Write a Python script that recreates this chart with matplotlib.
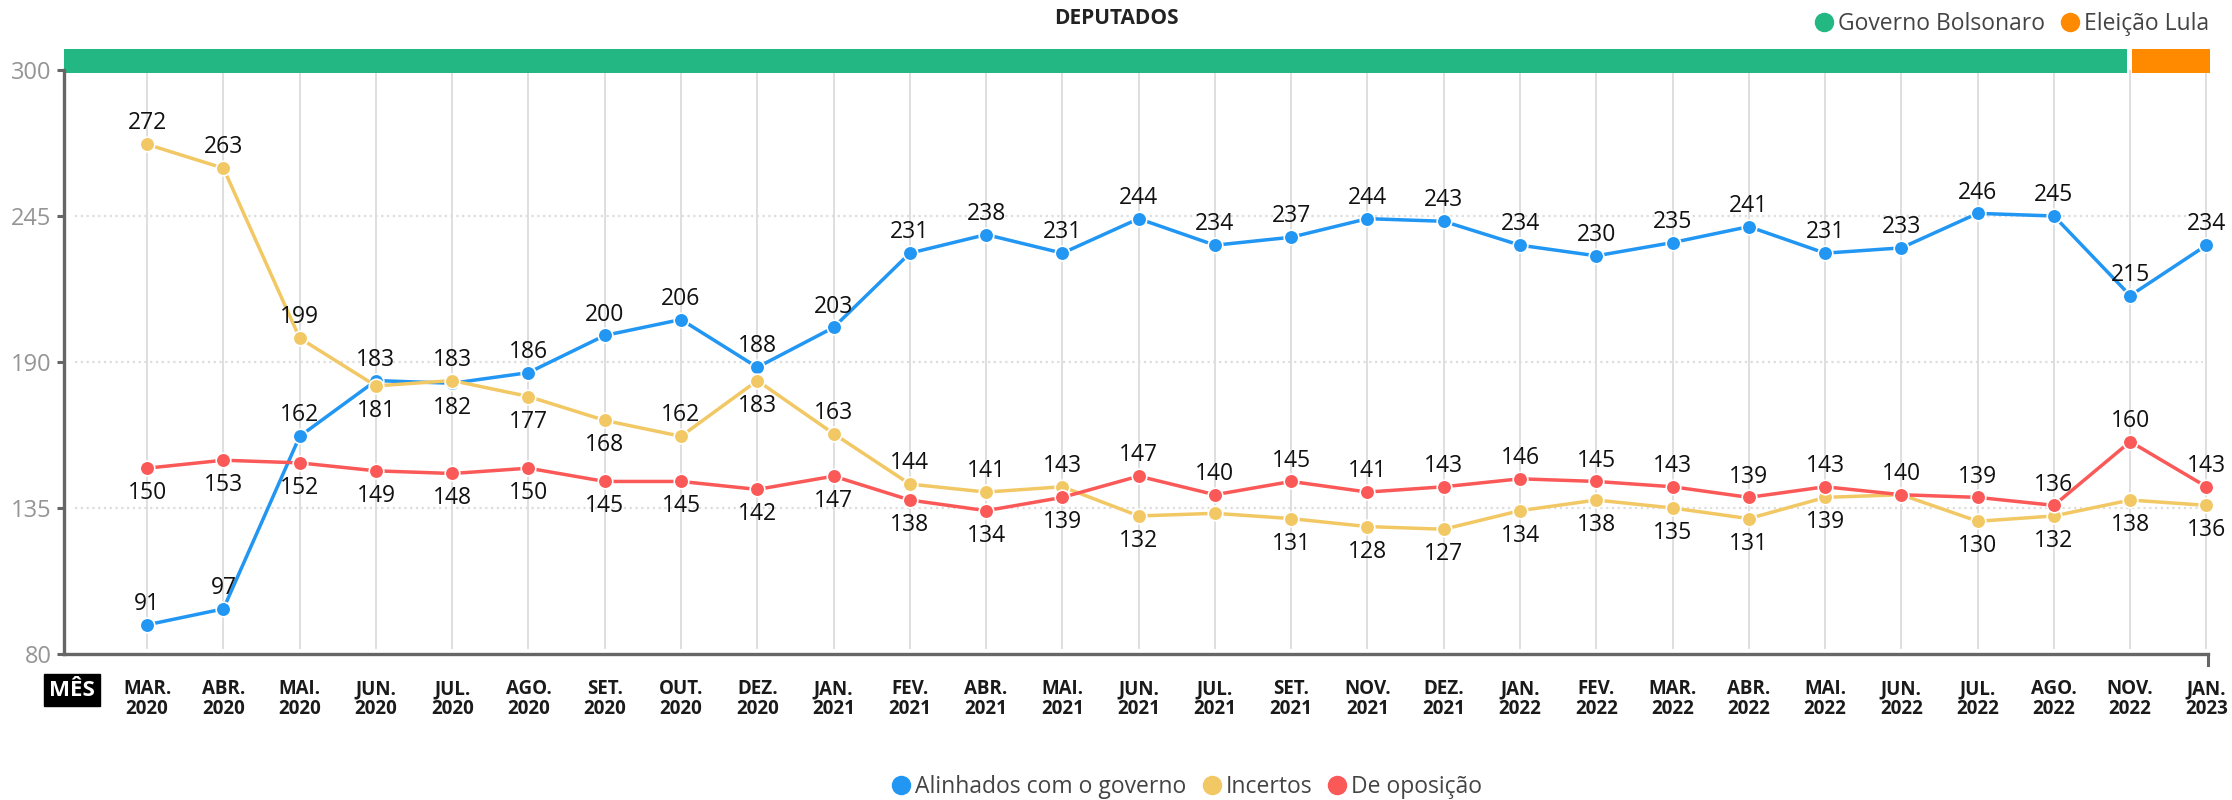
import matplotlib
matplotlib.use("Agg")
import matplotlib.pyplot as plt
from matplotlib.patches import Rectangle
from matplotlib.lines import Line2D

# ---------------- data ----------------
months = ["MAR.\n2020", "ABR.\n2020", "MAI.\n2020", "JUN.\n2020", "JUL.\n2020", "AGO.\n2020",
          "SET.\n2020", "OUT.\n2020", "DEZ.\n2020", "JAN.\n2021", "FEV.\n2021", "ABR.\n2021",
          "MAI.\n2021", "JUN.\n2021", "JUL.\n2021", "SET.\n2021", "NOV.\n2021", "DEZ.\n2021",
          "JAN.\n2022", "FEV.\n2022", "MAR.\n2022", "ABR.\n2022", "MAI.\n2022", "JUN.\n2022",
          "JUL.\n2022", "AGO.\n2022", "NOV.\n2022", "JAN.\n2023"]

alinhados = [91, 97, 162, 183, 182, 186, 200, 206, 188, 203, 231, 238, 231, 244,
             234, 237, 244, 243, 234, 230, 235, 241, 231, 233, 246, 245, 215, 234]
incertos = [272, 263, 199, 181, 183, 177, 168, 162, 183, 163, 144, 141, 143, 132,
            133, 131, 128, 127, 134, 138, 135, 131, 139, 140, 130, 132, 138, 136]
oposicao = [150, 153, 152, 149, 148, 150, 145, 145, 142, 147, 138, 134, 139, 147,
            140, 145, 141, 143, 146, 145, 143, 139, 143, 140, 139, 136, 160, 143]

# label placement: 1 = above, -1 = below, 0 = hidden
pos_alinhados = [1, 1, 1, 1, -1] + [1] * 23
pos_incertos = [1, 1, 1, -1, 1, -1, -1, 1, -1, 1, 1, 1, 1, -1,
                0, -1, -1, -1, -1, -1, -1, -1, -1, 0, -1, -1, -1, -1]
pos_oposicao = [-1] * 13 + [1] * 15

yticks = [80, 135, 190, 245, 300]
series_names = ["Alinhados com o governo", "Incertos", "De oposição"]
periods = [("Governo Bolsonaro", "#22b783"), ("Eleição Lula", "#ff8a00")]
period_index_split = 26  # NOV. 2022

# ---------------- style ----------------
FONT = ["Open Sans", "DejaVu Sans"]
plt.rcParams["font.family"] = FONT
BLUE, YELLOW, RED = "#2196f3", "#f2c865", "#fb5858"
AX_COL = "#666666"

W, H = 2232, 800
fig = plt.figure(figsize=(W / 100, H / 100), dpi=100)
x0, x1, ytop, ybot = 64, 2208, 70, 654
ax = fig.add_axes([x0 / W, 1 - ybot / H, (x1 - x0) / W, (ybot - ytop) / H])

xs = list(range(len(months)))
ax.set_xlim(-1.09, len(months) - 1 + 0.02)
ax.set_ylim(80, 300)

# grids
for x in xs:
    ax.plot([x, x], [82, 300], color="#dcdcdc", lw=1.3, zorder=0, solid_capstyle="butt")
for y in yticks[1:-1]:
    ax.plot([-0.95, len(months) - 1 - 0.05], [y, y], color="#dddddd", lw=1.6,
            ls=(0, (1, 1.6)), zorder=0)

for sp in ["top", "right"]:
    ax.spines[sp].set_visible(False)
for sp in ["left", "bottom"]:
    ax.spines[sp].set_color(AX_COL)
    ax.spines[sp].set_linewidth(2.4)

ax.set_yticks(yticks)
ax.set_yticklabels([str(v) for v in yticks], color="#959595", fontsize=17)
ax.tick_params(axis="y", length=5, width=2.2, color=AX_COL, pad=4)
ax.set_xticks(xs)
ax.set_xticklabels(months, fontsize=13.5, fontweight="bold", color="#1a1a1a", linespacing=1.0)
ax.tick_params(axis="x", length=0, pad=18)

# end tick on x-axis
ax.plot([xs[-1] + 0.02, xs[-1] + 0.02], [80, 76], color=AX_COL, lw=2.2, clip_on=False)

# period bar
ax.add_patch(Rectangle((-1.09, 299), period_index_split - 0.04 + 1.09, 9,
                       color=periods[0][1], clip_on=False, lw=0))
ax.add_patch(Rectangle((period_index_split + 0.02, 299), len(months) - 1 - period_index_split + 0.02, 9,
                       color=periods[1][1], clip_on=False, lw=0))

# lines
for vals, pos, col, z in [(alinhados, pos_alinhados, BLUE, 3),
                          (incertos, pos_incertos, YELLOW, 4),
                          (oposicao, pos_oposicao, RED, 5)]:
    ax.plot(xs, vals, color=col, lw=2.5, marker="o", ms=10.5, mfc=col, mec="white",
            mew=1.2, zorder=z, clip_on=False)
    for x, v, p in zip(xs, vals, pos):
        if p == 0:
            continue
        off = 15 if p > 0 else -18
        ax.annotate(str(v), (x, v), xytext=(0, off), textcoords="offset points",
                    ha="center", va="center", fontsize=16.5, color="#111111", zorder=6)

# title
fig.text(0.5, 1 - 19 / H, "DEPUTADOS", ha="center", va="center", fontsize=15,
         fontweight="bold", color="#222222")

# MÊS box
fig.text(72 / W, 1 - 690 / H, "MÊS", ha="center", va="center", fontsize=16,
         fontweight="bold", color="white",
         bbox=dict(boxstyle="square,pad=0.25", fc="black", ec="black"))

# top legend
h_top = [Line2D([], [], ls="", marker="o", ms=13, color=c) for _, c in periods]
fig.legend(h_top, [n for n, _ in periods], loc="center right",
           bbox_to_anchor=(1 - 14 / W, 1 - 24 / H), ncol=2, frameon=False,
           fontsize=16.5, handletextpad=0.1, columnspacing=0.6, handlelength=1.0,
           labelcolor="#444444", borderaxespad=0)

# bottom legend
h_bot = [Line2D([], [], ls="", marker="o", ms=13, color=c) for c in (BLUE, YELLOW, RED)]
fig.legend(h_bot, series_names, loc="center", bbox_to_anchor=(1186 / W, 1 - 787 / H),
           ncol=3, frameon=False, fontsize=16.5, handletextpad=0.1, columnspacing=0.6,
           handlelength=1.0, labelcolor="#444444", borderaxespad=0)

fig.savefig("out.png", dpi=100)
